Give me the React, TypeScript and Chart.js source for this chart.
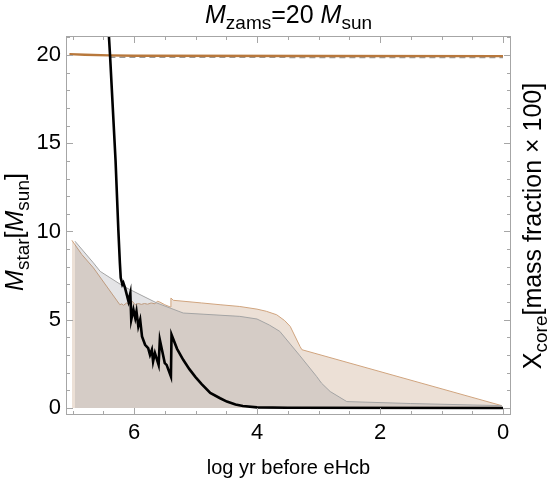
import React, { useEffect, useRef } from 'react';
import { Chart, registerables } from 'chart.js';

Chart.register(...registerables);

const FONT = '"Liberation Sans", Arial, Helvetica, sans-serif';

// x-axis tick labels (log yr before eHcb) and y-axis tick labels
const xTickValues = [0, 2, 4, 6];
const yTickValues = [0, 5, 10, 15, 20];

// Core X (x 100) - black line
const coreX = [6.5, 6.39, 6.3, 6.255, 6.23, 6.216, 6.19, 6.174, 6.146, 6.09, 6.06, 6.045, 6.01, 5.98, 5.96, 5.93, 5.9, 5.87, 5.82, 5.77, 5.74, 5.71, 5.69, 5.66, 5.6, 5.58, 5.5, 5.47, 5.4, 5.39, 5.3, 5.2, 5.1, 5.0, 4.9, 4.76, 4.6, 4.49, 4.35, 4.23, 4.0, 3.5, 0.0];
const coreY = [26.5, 20.0, 14.0, 10.1, 8.22, 7.37, 7.0, 7.1, 6.8, 6.04, 6.5, 5.0, 5.57, 5.1, 5.47, 4.62, 5.0, 4.05, 3.58, 3.39, 3.01, 3.3, 2.63, 3.11, 2.44, 3.86, 2.54, 2.44, 1.78, 4.15, 3.35, 2.73, 2.2, 1.75, 1.35, 0.85, 0.55, 0.36, 0.2, 0.11, 0.03, 0.01, 0.0];

// Stellar mass - orange line
const massX = [7.05, 6.8, 6.4, 6.0, 3.0, 0.0];
const massY = [20.05, 20.02, 19.98, 19.96, 19.95, 19.94];

// Stellar mass (comparison) - dashed grey line
const mass2X = [6.4, 3.0, 0.0];
const mass2Y = [19.88, 19.87, 19.86];

// Grey filled profile
const greyX = [6.96, 6.66, 6.55, 6.17, 5.63, 5.2, 4.28, 4.0, 3.8, 3.63, 3.3, 3.03, 2.95, 2.81, 2.54, 1.5, 0.02];
const greyY = [9.45, 8.22, 7.74, 6.89, 5.95, 5.38, 5.19, 5.04, 4.7, 4.34, 2.95, 1.78, 1.4, 0.93, 0.36, 0.25, 0.13];

// Tan filled profile
const tanX = [7.01, 6.85, 6.66, 6.23, 6.2, 6.17, 6.12, 6.08, 6.03, 5.98, 5.93, 5.88, 5.83, 5.78, 5.72, 5.66, 5.62, 5.58, 5.5, 5.41, 5.4, 5.36, 4.9, 4.6, 4.28, 4.0, 3.85, 3.68, 3.55, 3.46, 3.3, 3.27, 0.02];
const tanY = [9.5, 8.7, 7.94, 5.85, 5.9, 5.82, 5.95, 5.85, 6.05, 5.85, 5.92, 5.87, 5.92, 5.88, 5.95, 5.9, 6.05, 6.0, 5.85, 5.72, 6.23, 6.1, 5.95, 5.85, 5.75, 5.6, 5.48, 5.28, 4.95, 4.62, 3.48, 3.3, 0.13];

const toPts = (xs: number[], ys: number[]) => xs.map((x, i) => ({ x, y: ys[i] }));

type Part = { t: string; it?: boolean; sub?: boolean };

function drawRich(ctx: CanvasRenderingContext2D, parts: Part[], cx: number, baseline: number, size: number) {
  const subSize = size * 0.76;
  const fontOf = (p: Part) => `${p.it ? 'italic ' : ''}${p.sub ? subSize : size}px ${FONT}`;
  let total = 0;
  const widths = parts.map((p) => {
    ctx.font = fontOf(p);
    const w = ctx.measureText(p.t).width;
    total += w;
    return w;
  });
  let x = cx - total / 2;
  ctx.textAlign = 'left';
  ctx.textBaseline = 'alphabetic';
  ctx.fillStyle = '#000';
  parts.forEach((p, i) => {
    ctx.font = fontOf(p);
    ctx.fillText(p.t, x, baseline + (p.sub ? size * 0.22 : 0));
    x += widths[i];
  });
}

const framePlugin = {
  id: 'frameAndLabels',
  afterDraw(chart: any) {
    const ctx: CanvasRenderingContext2D = chart.ctx;
    const { left, right, top, bottom } = chart.chartArea;
    const xs = chart.scales.x;
    const ys = chart.scales.y;
    ctx.save();
    ctx.strokeStyle = '#a6a6a6';
    ctx.lineWidth = 1;
    ctx.strokeRect(left + 0.5, top + 0.5, right - left - 1, bottom - top - 1);
    ctx.beginPath();
    for (let k = 0; k <= 14; k++) {
      const v = k * 0.5;
      const px = Math.round(xs.getPixelForValue(v)) + 0.5;
      if (px < left || px > right) continue;
      const len = k % 4 === 0 ? 7 : 4;
      ctx.moveTo(px, bottom);
      ctx.lineTo(px, bottom - len);
      ctx.moveTo(px, top);
      ctx.lineTo(px, top + len);
    }
    for (let v = 0; v <= 21; v++) {
      const py = Math.round(ys.getPixelForValue(v)) + 0.5;
      if (py < top || py > bottom) continue;
      const len = v % 5 === 0 ? 7 : 4;
      ctx.moveTo(left, py);
      ctx.lineTo(left + len, py);
      ctx.moveTo(right, py);
      ctx.lineTo(right - len, py);
    }
    ctx.stroke();

    // title
    drawRich(ctx, [
      { t: 'M', it: true },
      { t: 'zams', sub: true },
      { t: '=20 ' },
      { t: 'M', it: true },
      { t: 'sun', sub: true },
    ], (left + right) / 2, 23, 25);

    // x-axis label
    drawRich(ctx, [{ t: 'log yr before eHcb' }], (left + right) / 2, 474, 20);

    // left axis label
    ctx.save();
    ctx.translate(23, 232);
    ctx.rotate(-Math.PI / 2);
    drawRich(ctx, [
      { t: 'M', it: true },
      { t: 'star', sub: true },
      { t: '[' },
      { t: 'M', it: true },
      { t: 'sun', sub: true },
      { t: ']' },
    ], 0, 0, 25);
    ctx.restore();

    // right axis label
    ctx.save();
    ctx.translate(541, 226);
    ctx.rotate(-Math.PI / 2);
    drawRich(ctx, [
      { t: 'X' },
      { t: 'core', sub: true },
      { t: '[mass fraction \u00d7 100]' },
    ], 0, 0, 25);
    ctx.restore();

    ctx.restore();
  },
};

export default function App() {
  const ref = useRef<HTMLCanvasElement | null>(null);
  useEffect(() => {
    if (!ref.current) return;
    const chart = new Chart(ref.current, {
      type: 'line',
      data: {
        datasets: [
          { label: 'Xcore', data: toPts(coreX, coreY), borderColor: '#000000', borderWidth: 2.6, pointRadius: 0, fill: false, tension: 0 },
          { label: 'Mstar', data: toPts(massX, massY), borderColor: '#b8783c', borderWidth: 2.4, pointRadius: 0, fill: false },
          { label: 'Mstar2', data: toPts(mass2X, mass2Y), borderColor: '#999999', borderWidth: 1.6, borderDash: [6, 4], pointRadius: 0, fill: false },
          { label: 'grey', data: toPts(greyX, greyY), borderColor: '#a4a4a4', borderWidth: 1, backgroundColor: 'rgba(120,120,130,0.2)', pointRadius: 0, fill: 'origin' },
          { label: 'tan', data: toPts(tanX, tanY), borderColor: '#d0a47e', borderWidth: 1, backgroundColor: 'rgba(160,100,50,0.2)', pointRadius: 0, fill: 'origin' },
        ] as any,
      },
      options: {
        animation: false,
        responsive: false,
        devicePixelRatio: 1,
        events: [],
        layout: { padding: { top: 36, right: 37, left: 0, bottom: 0 } },
        plugins: { legend: { display: false }, tooltip: { enabled: false } },
        scales: {
          x: {
            type: 'linear',
            reverse: true,
            min: -0.13,
            max: 7.106,
            grid: { display: false, drawTicks: false },
            border: { display: false },
            ticks: { color: '#000', font: { family: FONT, size: 22 }, padding: 5, maxRotation: 0 },
            afterBuildTicks: (s: any) => { s.ticks = xTickValues.map((v) => ({ value: v })); },
            afterFit: (s: any) => { s.height = 69; },
          },
          y: {
            type: 'linear',
            min: -0.4,
            max: 21.08,
            grid: { display: false, drawTicks: false },
            border: { display: false },
            ticks: { color: '#000', font: { family: FONT, size: 22 }, padding: 5 },
            afterBuildTicks: (s: any) => { s.ticks = yTickValues.map((v) => ({ value: v })); },
            afterFit: (s: any) => { s.width = 66; },
          },
        },
      } as any,
      plugins: [framePlugin],
    });
    return () => chart.destroy();
  }, []);
  return (
    <div style={{ position: 'absolute', left: 0, top: 0, width: 548, height: 484, background: '#fff' }}>
      <canvas ref={ref} width={548} height={484} style={{ display: 'block' }} />
    </div>
  );
}
